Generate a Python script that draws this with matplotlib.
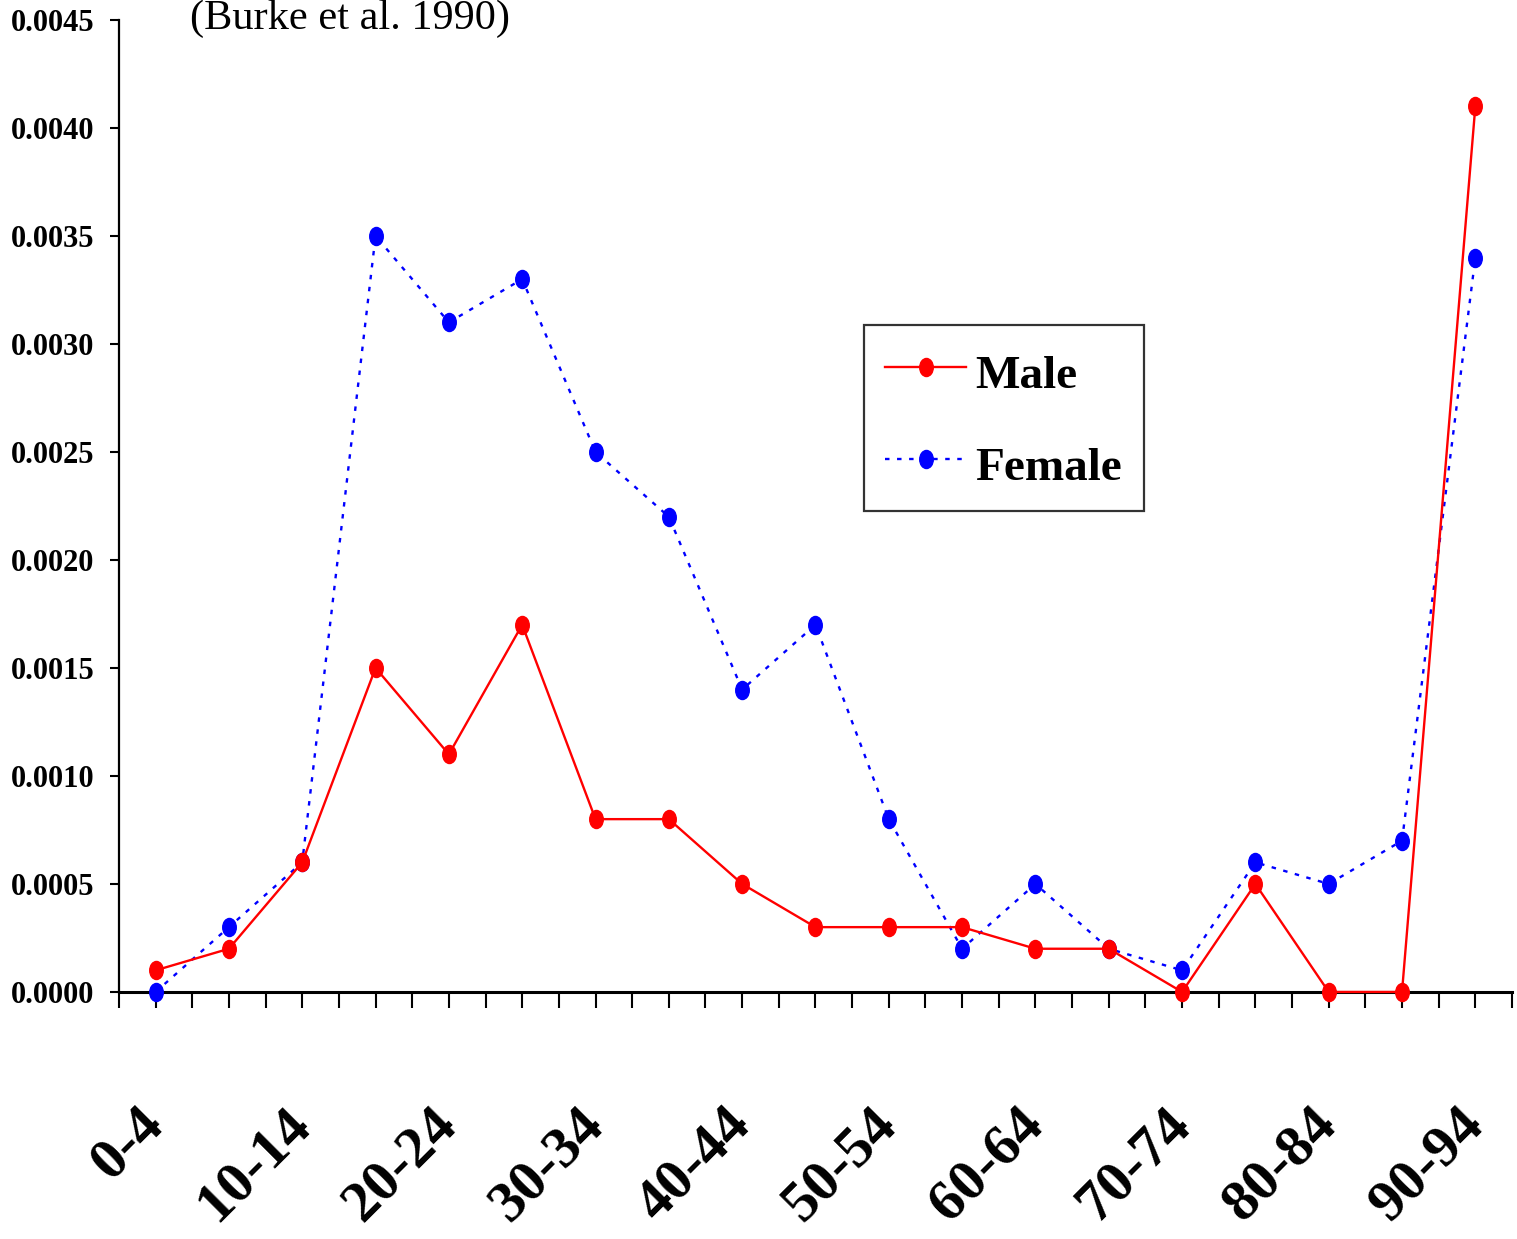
import numpy as np
import matplotlib
matplotlib.use("Agg")
import matplotlib.pyplot as plt
from matplotlib.path import Path
from matplotlib.ticker import FormatStrFormatter

age_groups = ["0-4", "5-9", "10-14", "15-19", "20-24", "25-29", "30-34",
              "35-39", "40-44", "45-49", "50-54", "55-59", "60-64", "65-69",
              "70-74", "75-79", "80-84", "85-89", "90-94"]
male = [0.0001, 0.0002, 0.0006, 0.0015, 0.0011, 0.0017, 0.0008, 0.0008,
        0.0005, 0.0003, 0.0003, 0.0003, 0.0002, 0.0002, 0.0000, 0.0005,
        0.0000, 0.0000, 0.0041]
female = [0.0000, 0.0003, 0.0006, 0.0035, 0.0031, 0.0033, 0.0025, 0.0022,
          0.0014, 0.0017, 0.0008, 0.0002, 0.0005, 0.0002, 0.0001, 0.0006,
          0.0005, 0.0007, 0.0034]
source_note = "(Burke et al. 1990)"

serif = ["Liberation Serif", "DejaVu Serif"]

# slightly tall oval marker
circ = Path.unit_circle()
oval = Path(circ.vertices * np.array([0.75, 1.0]), circ.codes)

fig = plt.figure(figsize=(15.17, 12.39), dpi=100)
ax = fig.add_axes([0.0784, 0.1994, 0.9183, 0.7845])

x = np.arange(len(age_groups))
ax.plot(x, male, color="#ff0000", lw=1.7, marker=oval, ms=13,
        label="Male", clip_on=False, zorder=5)
ax.plot(x, female, color="#0000ff", lw=1.7, ls=(0, (1.9, 3.2)), marker=oval,
        ms=13, label="Female", clip_on=False, zorder=4)

ax.set_xlim(-0.5, len(age_groups) - 0.5)
ax.set_ylim(0, 0.0045)
ax.set_yticks(np.arange(0, 0.00451, 0.0005))
ax.yaxis.set_major_formatter(FormatStrFormatter("%.4f"))

ax.set_xticks(x)
ax.set_xticklabels([g if i % 2 == 0 else "" for i, g in enumerate(age_groups)])
ax.set_xticks(np.arange(-0.5, len(age_groups)), minor=True)

for side in ("top", "right"):
    ax.spines[side].set_visible(False)
ax.spines["left"].set_linewidth(1.6)
ax.spines["bottom"].set_linewidth(2.2)

ax.tick_params(axis="x", which="both", direction="out", length=11.5,
               width=1.5, pad=78)
ax.tick_params(axis="y", direction="out", length=6.5, width=1.5, pad=11)

for lab in ax.get_xticklabels():
    lab.set_fontfamily(serif)
    lab.set_fontweight("bold")
    lab.set_fontsize(42)
    lab.set_rotation(45)
    lab.set_ha("right")
    lab.set_va("center")
    lab.set_rotation_mode("anchor")
for lab in ax.get_yticklabels():
    lab.set_fontfamily(serif)
    lab.set_fontweight("bold")
    lab.set_fontsize(22)

leg = ax.legend(loc="upper left", bbox_to_anchor=(0.535, 0.686),
                borderaxespad=0, frameon=True, fancybox=False,
                handlelength=1.7, handleheight=1.27, handletextpad=0.21,
                borderpad=0.45, labelspacing=0.87,
                prop={"family": serif, "weight": "bold", "size": 34})
leg.get_frame().set_edgecolor("black")
leg.get_frame().set_linewidth(1.6)

fig.text(0.125, 0.977, source_note, fontfamily=serif, fontsize=30.5,
         va="baseline", ha="left")

fig.savefig("out.png", dpi=100)
